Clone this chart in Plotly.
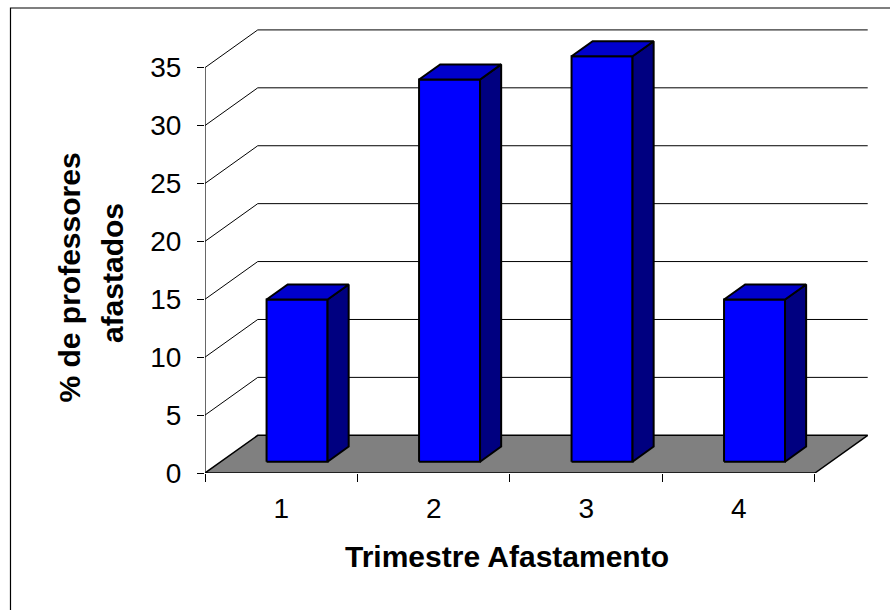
import plotly.graph_objects as go

# Share of teachers on leave, by quarter
quarters = ["1", "2", "3", "4"]
pct_on_leave = [14, 33, 35, 14]
y_ticks = [0, 5, 10, 15, 20, 25, 30, 35]

# Pseudo-3D geometry in data units (x: category units, y: percent units)
DEPTH_X = 0.346
DEPTH_Y = 3.255
BAR_W = 0.4
BAR_D0, BAR_D1 = 0.3, 0.7
X_LEFT, X_RIGHT = 0.5, 4.5

FONT = "Liberation Sans, Arial, sans-serif"
FRONT, SIDE, TOP = "#0000FF", "#000080", "#0000CC"

fig = go.Figure()


def poly(xs, ys, fill, width=2):
    fig.add_trace(go.Scatter(
        x=xs + [xs[0]], y=ys + [ys[0]], mode="lines", fill="toself",
        fillcolor=fill, line=dict(color="black", width=width),
        hoverinfo="skip", showlegend=False))


def seg(xs, ys, color="black", width=1):
    fig.add_trace(go.Scatter(
        x=xs, y=ys, mode="lines", line=dict(color=color, width=width),
        hoverinfo="skip", showlegend=False))


# back wall and side wall gridlines
for v in y_ticks[1:]:
    seg([X_LEFT + DEPTH_X, X_RIGHT + DEPTH_X], [v + DEPTH_Y, v + DEPTH_Y])
    seg([X_LEFT, X_LEFT + DEPTH_X], [v, v + DEPTH_Y])

# floor
poly([X_LEFT, X_RIGHT, X_RIGHT + DEPTH_X, X_LEFT + DEPTH_X],
     [0, 0, DEPTH_Y, DEPTH_Y], "#808080", width=1.5)

# front value axis line
seg([X_LEFT, X_LEFT], [0, y_ticks[-1]], width=1.2)

# columns: front, side and top faces
for i, v in enumerate(pct_on_leave):
    c = i + 1
    xl = c - BAR_W / 2 + BAR_D0 * DEPTH_X
    xr = c + BAR_W / 2 + BAR_D0 * DEPTH_X
    b = BAR_D0 * DEPTH_Y
    ddx = (BAR_D1 - BAR_D0) * DEPTH_X
    ddy = (BAR_D1 - BAR_D0) * DEPTH_Y
    poly([xl, xr, xr, xl], [b, b, b + v, b + v], FRONT)
    poly([xr, xr + ddx, xr + ddx, xr], [b, b + ddy, b + ddy + v, b + v], SIDE)
    poly([xl, xr, xr + ddx, xl + ddx], [b + v, b + v, b + v + ddy, b + v + ddy], TOP)

fig.update_layout(
    width=890, height=610,
    margin=dict(l=205, r=20, t=28, b=137),
    paper_bgcolor="white", plot_bgcolor="white",
    font=dict(family=FONT, color="black", size=28),
    xaxis=dict(
        range=[X_LEFT, 4.861], showgrid=False, zeroline=False, showline=False,
        tickvals=[1, 2, 3, 4], ticktext=quarters, ticks="",
        ticklabelstandoff=16,
        tickfont=dict(family=FONT, size=28, color="black"),
        minor=dict(tickvals=[0.5, 1.5, 2.5, 3.5, 4.5], ticks="outside",
                   ticklen=8, tickcolor="black", tickwidth=1, showgrid=False),
        fixedrange=True,
    ),
    yaxis=dict(
        range=[0, 38.42], showgrid=False, zeroline=False, showline=False,
        tickvals=y_ticks, ticks="outside", ticklen=7, tickcolor="black",
        tickwidth=1, ticklabelstandoff=10,
        tickfont=dict(family=FONT, size=28, color="black"),
        fixedrange=True,
    ),
    shapes=[dict(type="rect", xref="paper", yref="paper",
                 x0=-0.2925, y0=-0.35, x1=1.06, y1=1.0449,
                 line=dict(color="black", width=1.2), fillcolor="rgba(0,0,0,0)")],
    annotations=[
        dict(text="<b>Trimestre Afastamento</b>", xref="paper", yref="paper",
             x=0.4537, y=-0.1872, xanchor="center", yanchor="middle",
             showarrow=False, font=dict(family=FONT, size=30, color="black")),
        dict(text="<b>% de professores</b>", xref="paper", yref="paper",
             x=-0.203, y=0.4393, xanchor="center", yanchor="middle", textangle=-90,
             showarrow=False, font=dict(family=FONT, size=30, color="black")),
        dict(text="<b>afastados</b>", xref="paper", yref="paper",
             x=-0.1398, y=0.4494, xanchor="center", yanchor="middle", textangle=-90,
             showarrow=False, font=dict(family=FONT, size=30, color="black")),
    ],
)

fig.write_html("out.html")
